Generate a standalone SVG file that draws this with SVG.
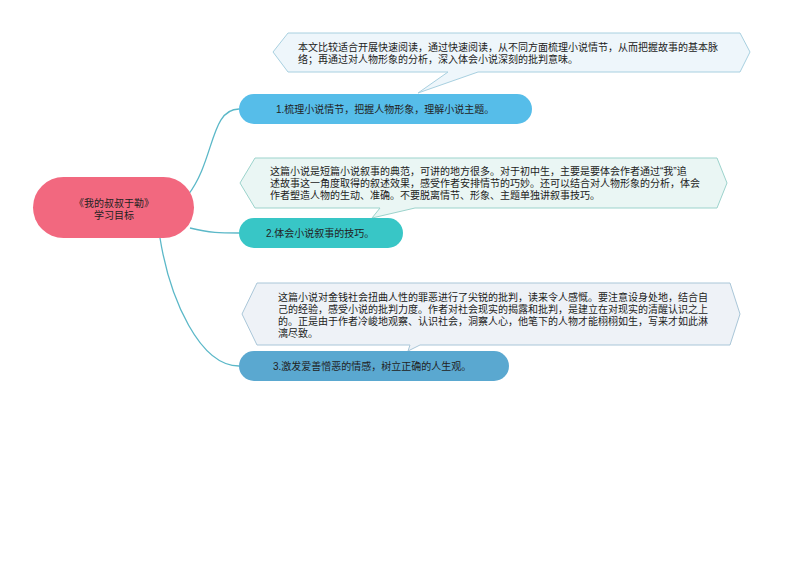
<svg xmlns="http://www.w3.org/2000/svg" width="794" height="561" viewBox="0 0 794 561">
<style>
text{font-family:"Liberation Sans","Noto Sans CJK SC",sans-serif;font-size:10px;fill:#222}
.c{stroke-width:1}
.l{fill:none;stroke:#5bb8c8;stroke-width:1.3}
</style>
<rect width="794" height="561" fill="#fff"/>
<g id="connectors">
<path class="l" d="M188,195 C215,160 210,109 239,109"/>
<path class="l" d="M190,228 C210,233 220,233 239,233"/>
<path class="l" d="M160,238 C170,300 200,366 239,366"/>
</g>
<g id="callout1">
<path class="c" fill="#eef6fb" stroke="#a8d0e0" d="M288,33 L740,33 L750,52 L740,72 L478,72 L418,93 L448,72 L288,72 L273,52 Z"/>
<text x="298" y="51">本文比较适合开展快速阅读，通过快速阅读，从不同方面梳理小说情节，从而把握故事的基本脉</text>
<text x="298" y="63">络；再通过对人物形象的分析，深入体会小说深刻的批判意味。</text>
</g>
<g id="node1">
<rect x="239" y="94" width="293" height="30" rx="15" fill="#56bde9"/>
<text x="276" y="113">1.梳理小说情节，把握人物形象，理解小说主题。</text>
</g>
<g id="callout2">
<path class="c" fill="#eaf6f4" stroke="#9cd3cc" d="M255,158 L717,158 L727,183 L717,208 L415,208 L372,218 L380,208 L255,208 L240,183 Z"/>
<text x="270" y="175">这篇小说是短篇小说叙事的典范，可讲的地方很多。对于初中生，主要是要体会作者通过“我”追</text>
<text x="270" y="187">述故事这一角度取得的叙述效果，感受作者安排情节的巧妙。还可以结合对人物形象的分析，体会</text>
<text x="270" y="199">作者塑造人物的生动、准确。不要脱离情节、形象、主题单独讲叙事技巧。</text>
</g>
<g id="node2">
<rect x="239" y="218" width="164" height="30" rx="15" fill="#38c6c6"/>
<text x="266" y="237">2.体会小说叙事的技巧。</text>
</g>
<g id="callout3">
<path class="c" fill="#eef2f7" stroke="#a9c6d8" d="M257,283 L730,283 L740,314 L730,345 L420,345 L408,351 L410,345 L257,345 L242,314 Z"/>
<text x="278" y="301">这篇小说对金钱社会扭曲人性的罪恶进行了尖锐的批判，读来令人感慨。要注意设身处地，结合自</text>
<text x="278" y="313">己的经验，感受小说的批判力度。作者对社会现实的揭露和批判，是建立在对现实的清醒认识之上</text>
<text x="278" y="325">的。正是由于作者冷峻地观察、认识社会，洞察人心，他笔下的人物才能栩栩如生，写来才如此淋</text>
<text x="278" y="337">漓尽致。</text>
</g>
<g id="node3">
<rect x="239" y="351" width="270" height="30" rx="15" fill="#5aa8d0"/>
<text x="273" y="370">3.激发爱善憎恶的情感，树立正确的人生观。</text>
</g>
<g id="root">
<rect x="33" y="177" width="161" height="61" rx="30.5" fill="#f2687f"/>
<text x="114" y="207" text-anchor="middle">《我的叔叔于勒》</text>
<text x="114" y="219" text-anchor="middle">学习目标</text>
</g>
</svg>
